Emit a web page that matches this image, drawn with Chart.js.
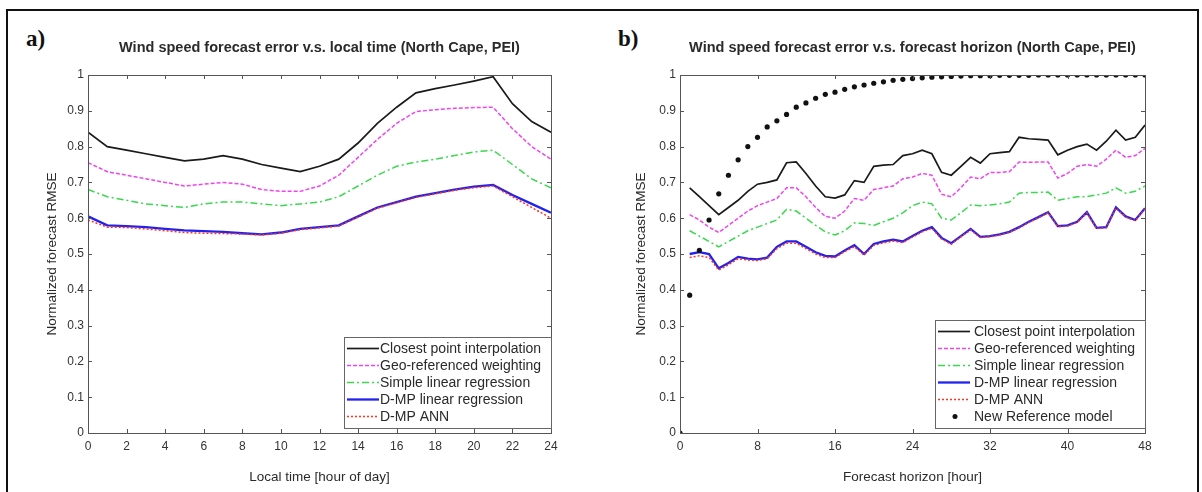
<!DOCTYPE html>
<html><head><meta charset="utf-8">
<script src="https://cdn.jsdelivr.net/npm/chart.js@4.4.0/dist/chart.umd.min.js"></script>
<style>
html,body{margin:0;padding:0;background:#fff;width:1202px;height:492px;overflow:hidden;position:relative;}
#frame{position:absolute;left:6px;top:9px;width:1189px;height:500px;border:2px solid #111;}
.lab{position:absolute;font-family:"Liberation Serif","DejaVu Serif",serif;font-weight:bold;font-size:23px;color:#111;}
.wrap{position:absolute;top:0;height:492px;}
</style></head><body>
<div id="frame"></div>
<div class="lab" style="left:26px;top:26px">a)</div>
<div class="lab" style="left:618px;top:26px">b)</div>
<div class="wrap" style="left:0;width:600px"><canvas id="ca"></canvas></div>
<div class="wrap" style="left:600px;width:602px"><canvas id="cb"></canvas></div>
<script>
// ---------- data ----------
const seriesNames = ["Closest point interpolation","Geo-referenced weighting","Simple linear regression","D-MP linear regression","D-MP ANN"];
const refName = "New Reference model";

const hoursA = [0,1,2,3,4,5,6,7,8,9,10,11,12,13,14,15,16,17,18,19,20,21,22,23,24];
const closestA = [0.84,0.80,0.79,0.78,0.77,0.76,0.765,0.775,0.765,0.75,0.74,0.73,0.745,0.765,0.81,0.865,0.91,0.95,0.962,0.972,0.983,0.995,0.92,0.87,0.84];
const geoA     = [0.755,0.73,0.72,0.71,0.70,0.69,0.695,0.70,0.695,0.68,0.675,0.675,0.69,0.72,0.77,0.82,0.865,0.898,0.903,0.907,0.909,0.91,0.85,0.80,0.765];
const simpleA  = [0.68,0.66,0.65,0.64,0.635,0.63,0.64,0.645,0.645,0.64,0.635,0.64,0.645,0.66,0.69,0.72,0.745,0.757,0.765,0.775,0.785,0.79,0.75,0.71,0.685];
const dmpLinA  = [0.605,0.58,0.578,0.575,0.57,0.566,0.564,0.562,0.558,0.555,0.56,0.57,0.575,0.58,0.605,0.63,0.645,0.66,0.67,0.68,0.688,0.693,0.665,0.64,0.615];
const dmpAnnA  = [0.595,0.575,0.574,0.57,0.565,0.56,0.558,0.557,0.556,0.553,0.558,0.568,0.573,0.578,0.603,0.628,0.643,0.658,0.668,0.678,0.685,0.69,0.66,0.63,0.60];

const hoursB = [0,1,2,3,4,5,6,7,8,9,10,11,12,13,14,15,16,17,18,19,20,21,22,23,24,25,26,27,28,29,30,31,32,33,34,35,36,37,38,39,40,41,42,43,44,45,46,47,48];
const closestB = [null,0.685,0.66,0.635,0.61,0.63,0.65,0.675,0.695,0.70,0.707,0.755,0.757,0.725,0.69,0.66,0.656,0.665,0.705,0.70,0.745,0.748,0.75,0.775,0.78,0.79,0.78,0.728,0.72,0.745,0.77,0.754,0.78,0.783,0.786,0.826,0.822,0.82,0.818,0.777,0.79,0.80,0.807,0.79,0.815,0.846,0.818,0.826,0.86];
const geoB     = [null,0.61,0.595,0.575,0.56,0.58,0.60,0.62,0.635,0.645,0.655,0.685,0.685,0.66,0.63,0.605,0.60,0.62,0.655,0.65,0.68,0.685,0.69,0.71,0.715,0.725,0.72,0.667,0.66,0.685,0.715,0.71,0.728,0.728,0.73,0.757,0.756,0.757,0.757,0.712,0.725,0.745,0.75,0.745,0.765,0.79,0.77,0.775,0.795];
const simpleB  = [null,0.565,0.55,0.535,0.52,0.535,0.55,0.565,0.575,0.585,0.595,0.625,0.62,0.60,0.58,0.562,0.553,0.565,0.587,0.585,0.58,0.59,0.60,0.615,0.635,0.645,0.64,0.60,0.595,0.615,0.637,0.635,0.637,0.64,0.645,0.67,0.672,0.672,0.673,0.65,0.655,0.66,0.66,0.665,0.67,0.685,0.67,0.675,0.69];
const dmpLinB  = [null,0.50,0.505,0.50,0.46,0.475,0.492,0.487,0.485,0.49,0.52,0.535,0.535,0.52,0.505,0.495,0.493,0.51,0.525,0.50,0.528,0.535,0.54,0.535,0.55,0.565,0.575,0.545,0.53,0.55,0.57,0.548,0.55,0.555,0.562,0.575,0.59,0.603,0.617,0.578,0.58,0.59,0.617,0.573,0.575,0.63,0.605,0.595,0.628];
const dmpAnnB  = [null,0.49,0.495,0.49,0.455,0.47,0.487,0.483,0.482,0.487,0.515,0.53,0.53,0.515,0.50,0.49,0.49,0.507,0.52,0.497,0.524,0.531,0.536,0.532,0.547,0.562,0.572,0.542,0.527,0.548,0.567,0.546,0.548,0.553,0.56,0.573,0.588,0.601,0.615,0.576,0.578,0.588,0.615,0.571,0.573,0.628,0.603,0.593,0.626];
const refB     = [0,0.385,0.51,0.595,0.668,0.72,0.763,0.80,0.826,0.855,0.872,0.89,0.91,0.922,0.935,0.946,0.952,0.96,0.967,0.972,0.977,0.981,0.985,0.988,0.99,0.992,0.994,0.995,0.996,0.997,0.998,0.998,0.998,0.999,0.999,0.999,0.999,1,1,1,1,1,1,1,1,1,1,1,1];

const yTicks = [0,0.1,0.2,0.3,0.4,0.5,0.6,0.7,0.8,0.9,1];
const xTicksA = [0,2,4,6,8,10,12,14,16,18,20,22,24];
const xTicksB = [0,8,16,24,32,40,48];

// ---------- helpers ----------
const FONT = "'Liberation Sans', Arial, sans-serif";
Chart.defaults.font.family = FONT;
Chart.defaults.color = '#333';
const pts = (xs, ys) => xs.map((x,i)=>({x:x, y:ys[i]}));

const styles = [
  {borderColor:'#1a1a1a', borderWidth:1.7, borderDash:[], order:5},
  {borderColor:'#ee44ee', borderWidth:1.5, borderDash:[4,2], order:4},
  {borderColor:'#3ad84e', borderWidth:1.5, borderDash:[7,3,2,3], order:3},
  {borderColor:'#2222f0', borderWidth:2.3, borderDash:[], order:2},
  {borderColor:'#ff3322', borderWidth:1.5, borderDash:[2,2], order:1}
];

function lineSets(xs, arrs){
  return arrs.map((a,i)=>Object.assign({
    label: seriesNames[i], data: pts(xs,a), showLine:true, fill:false,
    pointRadius:0, tension:0, spanGaps:false
  }, styles[i]));
}

const framePlugin = {
  id:'frameTicks',
  afterDatasetsDraw(chart){
    const {ctx, chartArea:ca, scales} = chart;
    ctx.save();
    ctx.strokeStyle = '#555'; ctx.lineWidth = 1; ctx.setLineDash([]);
    ctx.strokeRect(Math.round(ca.left)+0.5, Math.round(ca.top)+0.5, Math.round(ca.right-ca.left), Math.round(ca.bottom-ca.top));
    const L=4;
    ctx.beginPath();
    scales.x.ticks.forEach(t=>{
      const px = Math.round(scales.x.getPixelForValue(t.value))+0.5;
      ctx.moveTo(px, ca.bottom); ctx.lineTo(px, ca.bottom-L);
      ctx.moveTo(px, ca.top); ctx.lineTo(px, ca.top+L);
    });
    scales.y.ticks.forEach(t=>{
      const py = Math.round(scales.y.getPixelForValue(t.value))+0.5;
      ctx.moveTo(ca.left, py); ctx.lineTo(ca.left+L, py);
      ctx.moveTo(ca.right, py); ctx.lineTo(ca.right-L, py);
    });
    ctx.stroke();
    ctx.restore();
  }
};

const topTitlePlugin = {
  id:'topTitle',
  afterDraw(chart, args, opts){
    const {ctx, chartArea:ca} = chart;
    ctx.save();
    ctx.font = "bold 14.5px " + FONT;
    ctx.fillStyle = '#2a2a2a'; ctx.textAlign='center'; ctx.textBaseline='middle';
    ctx.fillText(opts.text, (ca.left+ca.right)/2, opts.y);
    ctx.restore();
  }
};

const boxLegendPlugin = {
  id:'boxLegend',
  afterDraw(chart, args, opts){
    const {ctx, chartArea:ca} = chart;
    const ds = chart.data.datasets;
    const rowH = 17, padY = 3, w = opts.width;
    const h = ds.length*rowH + padY*2;
    const x1 = Math.round(ca.right - opts.right - w), y1 = Math.round(ca.bottom - opts.bottom - h);
    ctx.save();
    ctx.fillStyle = '#fff'; ctx.fillRect(x1, y1, w, h);
    ctx.strokeStyle = '#666'; ctx.lineWidth = 1; ctx.setLineDash([]);
    ctx.strokeRect(x1+0.5, y1+0.5, w, h);
    ctx.font = "14px " + FONT;
    ctx.textBaseline = 'middle'; ctx.textAlign = 'left';
    ds.forEach((d,i)=>{
      const cy = y1 + padY + rowH*(i+0.5);
      if (d.showLine !== false) {
        ctx.strokeStyle = d.borderColor; ctx.lineWidth = d.borderWidth;
        ctx.setLineDash(d.borderDash||[]);
        ctx.beginPath(); ctx.moveTo(x1+3, cy); ctx.lineTo(x1+35, cy); ctx.stroke();
        ctx.setLineDash([]);
      } else {
        ctx.fillStyle = d.backgroundColor;
        ctx.beginPath(); ctx.arc(x1+20, cy, 2.5, 0, Math.PI*2); ctx.fill();
      }
      ctx.fillStyle = '#2a2a2a';
      ctx.fillText(d.label, x1+opts.textX, cy+0.5);
    });
    ctx.restore();
  }
};

function makeOptions(cfg){
  return {
    responsive:true, maintainAspectRatio:false, animation:false,
    layout:{padding:{left:0, right:cfg.padRight, top:75, bottom:0}},
    plugins:{
      legend:{display:false}, tooltip:{enabled:false}, title:{display:false},
      topTitle:{text:cfg.title, y:48},
      boxLegend:{width:cfg.legW, right:0, bottom:5, textX:cfg.legTextX}
    },
    scales:{
      x:{type:'linear', min:cfg.xMin, max:cfg.xMax,
         afterBuildTicks(s){ s.ticks = cfg.xTicks.map(v=>({value:v})); },
         grid:{display:false, drawTicks:false}, border:{display:false},
         ticks:{padding:6, font:{size:12}, color:'#333', autoSkip:false, maxRotation:0},
         title:{display:true, text:cfg.xTitle, font:{size:13.5}, color:'#2a2a2a', padding:{top:0,bottom:7}},
         afterFit(s){ s.height = 59; }
      },
      y:{type:'linear', min:0, max:1,
         afterBuildTicks(s){ s.ticks = yTicks.map(v=>({value:v})); },
         grid:{display:false, drawTicks:false}, border:{display:false},
         ticks:{padding:4, font:{size:12}, color:'#333', autoSkip:false, callback:(v)=>String(Math.round(v*10)/10)},
         title:{display:true, text:'Normalized forecast RMSE', font:{size:13.5}, color:'#2a2a2a', padding:{top:cfg.yTitlePad, bottom:0}},
         afterFit(s){ s.width = cfg.yW; }
      }
    }
  };
}

new Chart(document.getElementById('ca'), {
  type:'scatter',
  data:{datasets: lineSets(hoursA, [closestA, geoA, simpleA, dmpLinA, dmpAnnA])},
  options: makeOptions({padRight:49, yW:88, yTitlePad:44, legW:207, legTextX:36, xMin:0, xMax:24, xTicks:xTicksA,
    xTitle:'Local time [hour of day]', title:'Wind speed forecast error v.s. local time (North Cape, PEI)'}),
  plugins:[framePlugin, boxLegendPlugin, topTitlePlugin]
});

const dsB = lineSets(hoursB, [closestB, geoB, simpleB, dmpLinB, dmpAnnB]);
dsB.push({label: refName, data: pts(hoursB, refB), showLine:false, pointRadius:2.6, pointStyle:'circle',
  backgroundColor:'#111', borderColor:'#111', borderWidth:0, order:0});

new Chart(document.getElementById('cb'), {
  type:'scatter',
  data:{datasets: dsB},
  options: makeOptions({padRight:57, yW:80, yTitlePad:33, legW:210, legTextX:39, xMin:0, xMax:48, xTicks:xTicksB,
    xTitle:'Forecast horizon [hour]', title:'Wind speed forecast error v.s. forecast horizon (North Cape, PEI)'}),
  plugins:[framePlugin, boxLegendPlugin, topTitlePlugin]
});
</script>
</body></html>
